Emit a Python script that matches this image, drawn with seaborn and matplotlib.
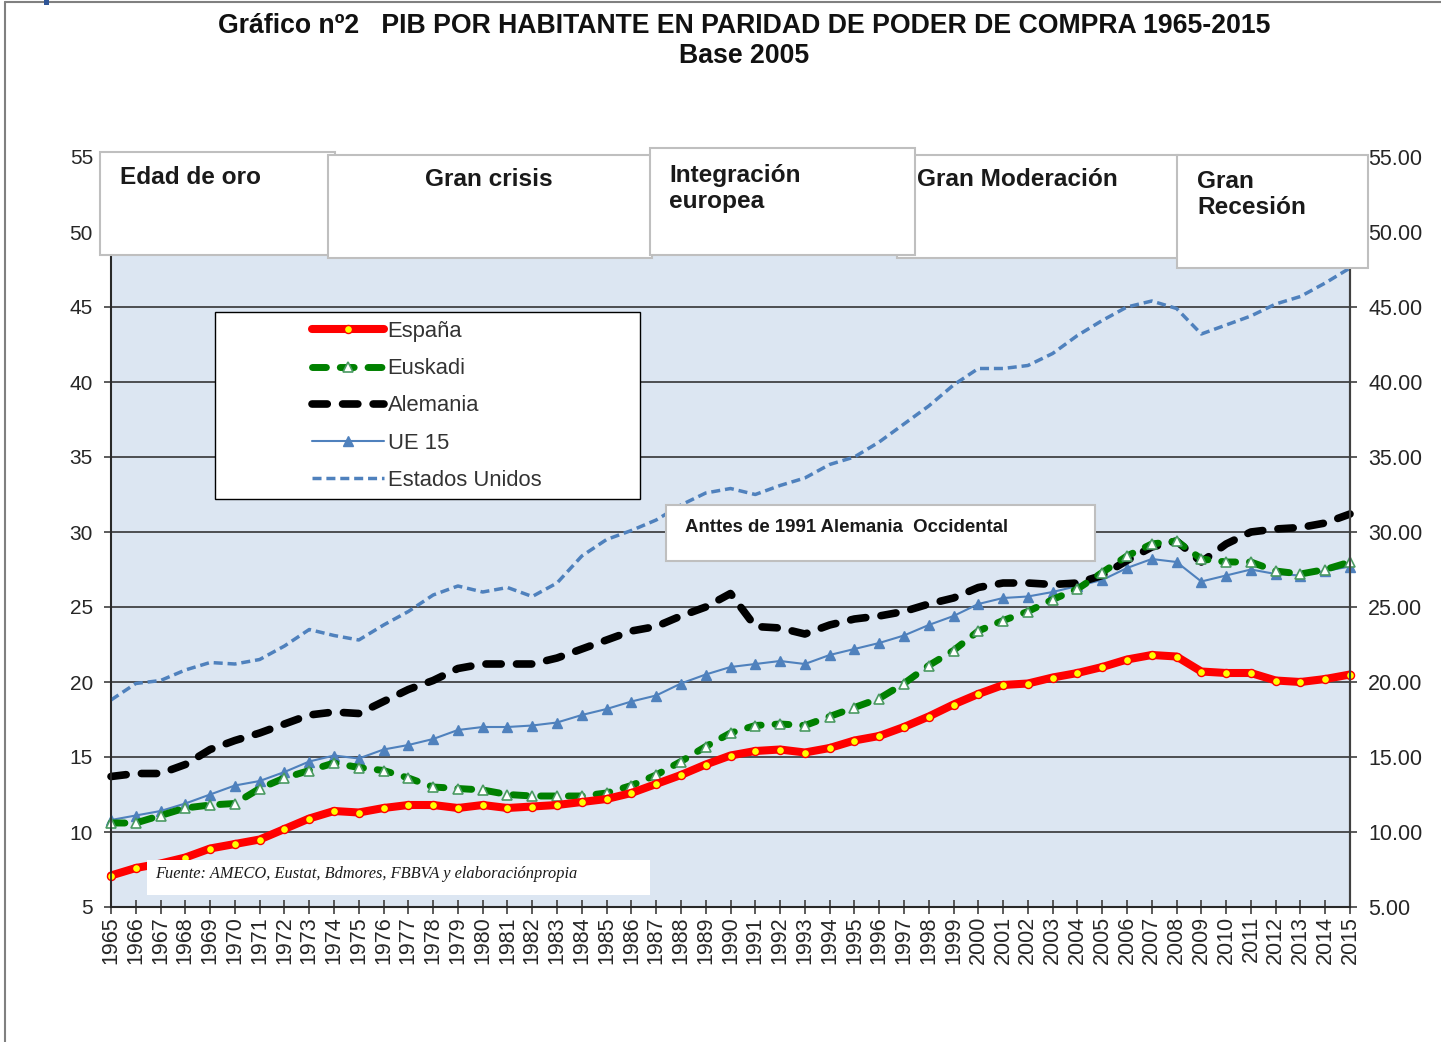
import matplotlib
matplotlib.use("Agg")
import matplotlib.pyplot as plt
import seaborn as sns
from matplotlib.patches import Rectangle
from matplotlib.ticker import FormatStrFormatter

years = list(range(1965, 2016))

espana = [7.1, 7.6, 7.9, 8.3, 8.9, 9.2, 9.5, 10.2, 10.9, 11.4,
          11.3, 11.6, 11.8, 11.8, 11.6, 11.8, 11.6, 11.7, 11.8, 12.0,
          12.2, 12.6, 13.2, 13.8, 14.5, 15.1, 15.4, 15.5, 15.3, 15.6,
          16.1, 16.4, 17.0, 17.7, 18.5, 19.2, 19.8, 19.9, 20.3, 20.6,
          21.0, 21.5, 21.8, 21.7, 20.7, 20.6, 20.6, 20.1, 20.0, 20.2,
          20.5]
euskadi = [10.6, 10.6, 11.1, 11.6, 11.8, 11.9, 12.9, 13.6, 14.1, 14.6,
           14.3, 14.1, 13.6, 13.0, 12.9, 12.8, 12.5, 12.4, 12.4, 12.4,
           12.6, 13.1, 13.8, 14.7, 15.7, 16.6, 17.1, 17.2, 17.1, 17.7,
           18.3, 18.9, 19.9, 21.1, 22.1, 23.4, 24.1, 24.7, 25.5, 26.2,
           27.3, 28.4, 29.2, 29.4, 28.2, 28.0, 28.0, 27.4, 27.2, 27.5,
           28.0]
alemania = [13.7, 13.9, 13.9, 14.5, 15.5, 16.1, 16.6, 17.2, 17.8, 18.0,
            17.9, 18.7, 19.5, 20.1, 20.9, 21.2, 21.2, 21.2, 21.6, 22.2,
            22.8, 23.4, 23.7, 24.4, 25.0, 25.9, 23.7, 23.6, 23.2, 23.8,
            24.2, 24.4, 24.7, 25.2, 25.6, 26.3, 26.6, 26.6, 26.5, 26.6,
            27.1, 28.1, 29.0, 29.4, 28.0, 29.2, 30.0, 30.2, 30.3, 30.6,
            31.2]
ue15 = [10.8, 11.1, 11.4, 11.9, 12.5, 13.1, 13.4, 14.0, 14.7, 15.1,
        14.9, 15.5, 15.8, 16.2, 16.8, 17.0, 17.0, 17.1, 17.3, 17.8,
        18.2, 18.7, 19.1, 19.9, 20.5, 21.0, 21.2, 21.4, 21.2, 21.8,
        22.2, 22.6, 23.1, 23.8, 24.4, 25.2, 25.6, 25.7, 26.0, 26.4,
        26.8, 27.6, 28.2, 28.0, 26.7, 27.1, 27.5, 27.2, 27.1, 27.4,
        27.7]
eeuu = [18.8, 19.9, 20.1, 20.8, 21.3, 21.2, 21.5, 22.4, 23.5, 23.1,
        22.8, 23.8, 24.7, 25.8, 26.4, 26.0, 26.3, 25.7, 26.6, 28.4,
        29.5, 30.1, 30.8, 31.8, 32.6, 32.9, 32.5, 33.1, 33.6, 34.5,
        35.0, 36.0, 37.2, 38.4, 39.8, 40.9, 40.9, 41.1, 41.9, 43.1,
        44.1, 45.0, 45.4, 44.9, 43.2, 43.8, 44.4, 45.2, 45.7, 46.6,
        47.6]

periods = ["Edad de oro", "Gran crisis", "Integración\neuropea",
           "Gran Moderación", "Gran\nRecesión"]

sns.set_theme(style="ticks")
plt.rcParams['font.family'] = ['Liberation Sans', 'DejaVu Sans']

W, H = 1441, 1042
fig = plt.figure(figsize=(W / 100, H / 100), dpi=100)
fig.patch.set_facecolor("white")


def fx(x):
    return x / W


def fy(y):
    return 1 - y / H


ax = fig.add_axes([fx(111), fy(907), (1350 - 111) / W, (907 - 157) / H])
ax.set_facecolor("#DCE6F2")

# series, back to front
sns.lineplot(x=years, y=eeuu, ax=ax, color="#4F81BD", linewidth=2.5,
             label="Estados Unidos", clip_on=False, zorder=3)
ax.lines[-1].set_dashes([2.6, 1.4])
ax.lines[-1].set_dash_capstyle("butt")

sns.lineplot(x=years, y=ue15, ax=ax, color="#4F81BD", linewidth=1.5,
             marker="^", markersize=6.5, markerfacecolor="#4F81BD",
             markeredgecolor="#4F81BD", markeredgewidth=1,
             label="UE 15", clip_on=False, zorder=4)

sns.lineplot(x=years, y=alemania, ax=ax, color="black", linewidth=5.5,
             label="Alemania", clip_on=False, zorder=5)
ax.lines[-1].set_dashes([2, 2])
ax.lines[-1].set_dash_capstyle("round")

sns.lineplot(x=years, y=euskadi, ax=ax, color="#008000", linewidth=5,
             marker="^", markersize=6.5, markerfacecolor="white",
             markeredgecolor="#4a9a62", markeredgewidth=1.2,
             label="Euskadi", clip_on=False, zorder=6)
ax.lines[-1].set_dashes([2, 2])
ax.lines[-1].set_dash_capstyle("round")

sns.lineplot(x=years, y=espana, ax=ax, color="#FF0000", linewidth=5.8,
             marker="o", markersize=5.8, markerfacecolor="#FFFF00",
             markeredgecolor="#FF0000", markeredgewidth=1,
             label="España", clip_on=False, zorder=7)

ax.set_xlim(1965, 2015)
ax.set_ylim(5, 55)
ax.set_xticks(years)
ax.set_xticklabels([str(y) for y in years], rotation=90)
ax.set_yticks(range(5, 60, 5))
ax.set_xlabel("")
ax.set_ylabel("")
ax.yaxis.grid(True, color="#262626", linewidth=1.1)
ax.xaxis.grid(False)
ax.set_axisbelow(True)
for s in ["left", "right", "bottom"]:
    ax.spines[s].set_color("#404040")
    ax.spines[s].set_linewidth(1.5)
ax.spines["top"].set_visible(False)
ax.tick_params(axis="x", direction="inout", length=10, width=1.2,
               colors="#404040", labelcolor="#262626", labelsize=15.5, pad=1.5)
ax.tick_params(axis="y", direction="out", length=5, width=1.2,
               colors="#404040", labelcolor="#262626", labelsize=15, pad=8)
ax.get_legend().remove()

ax2 = ax.twinx()
ax2.set_ylim(5, 55)
ax2.set_yticks(range(5, 60, 5))
ax2.yaxis.set_major_formatter(FormatStrFormatter("%.2f"))
ax2.grid(False)
ax2.spines["top"].set_visible(False)
ax2.spines["right"].set_color("#404040")
ax2.spines["right"].set_linewidth(1.5)
ax2.tick_params(axis="y", direction="out", length=5, width=1.2,
                colors="#404040", labelcolor="#262626", labelsize=15.5, pad=8)

# title
fig.text(fx(744), fy(26),
         "Gráfico nº2   PIB POR HABITANTE EN PARIDAD DE PODER DE COMPRA 1965-2015",
         ha="center", va="center", fontsize=19.2, fontweight="bold", color="#111111")
fig.text(fx(744), fy(56), "Base 2005", ha="center", va="center",
         fontsize=19.2, fontweight="bold", color="#111111")


def box(x0, y0, x1, y1, edge="#BFBFBF", lw=1.5, z=2):
    fig.patches.append(Rectangle((fx(x0), fy(y1)), (x1 - x0) / W, (y1 - y0) / H,
                                 transform=fig.transFigure, facecolor="white",
                                 edgecolor=edge, linewidth=lw, zorder=z))


# period boxes
pfs = 17.6
box(100, 152, 335, 255)
fig.text(fx(120), fy(178), periods[0], ha="left", va="center",
         fontsize=pfs, fontweight="bold", color="#1a1a1a", zorder=3)
box(328, 155, 652, 258)
fig.text(fx(489), fy(180), periods[1], ha="center", va="center",
         fontsize=pfs, fontweight="bold", color="#1a1a1a", zorder=3)
box(897, 155, 1178, 258)
fig.text(fx(917), fy(180), periods[3], ha="left", va="center",
         fontsize=pfs, fontweight="bold", color="#1a1a1a", zorder=3)
box(650, 148, 915, 255)
fig.text(fx(669), fy(188.5), periods[2], ha="left", va="center",
         fontsize=pfs, fontweight="bold", color="#1a1a1a", zorder=3,
         linespacing=1.22)
box(1177, 155, 1368, 268)
fig.text(fx(1197), fy(194.5), periods[4], ha="left", va="center",
         fontsize=pfs, fontweight="bold", color="#1a1a1a", zorder=3,
         linespacing=1.22)

# note about Germany
box(666, 505, 1095, 561)
fig.text(fx(685), fy(527), "Anttes de 1991 Alemania  Occidental", ha="left",
         va="center", fontsize=13.4, fontweight="bold", color="#1a1a1a", zorder=3)

# source
box(147, 860, 650, 895, edge="white", lw=0)
fig.text(fx(155), fy(874), "Fuente: AMECO, Eustat, Bdmores, FBBVA y elaboraciónpropia",
         ha="left", va="center", fontsize=11.8, fontstyle="italic",
         family=["Liberation Serif", "DejaVu Serif"], color="#1a1a1a", zorder=3)

# legend
box(215, 312, 640, 499, edge="black", lw=1)
handles, labels = ax.get_legend_handles_labels()
order = ["España", "Euskadi", "Alemania", "UE 15", "Estados Unidos"]
hmap = dict(zip(labels, handles))
leg = fig.legend([hmap[k] for k in order], order, loc="center left",
                 bbox_to_anchor=(fx(312), fy(406)), bbox_transform=fig.transFigure,
                 frameon=False, fontsize=15.8, handlelength=3.3, handletextpad=0.15,
                 labelspacing=0.74, borderpad=0, borderaxespad=0, numpoints=1)
for t in leg.get_texts():
    t.set_color("#333333")

# outer chart border
fig.add_artist(plt.Line2D([fx(5), fx(5)], [fy(2), 0], transform=fig.transFigure,
                          color="#808080", linewidth=1.5))
fig.add_artist(plt.Line2D([fx(5), 1], [fy(2), fy(2)], transform=fig.transFigure,
                          color="#808080", linewidth=1.5))
fig.patches.append(Rectangle((fx(44), fy(5)), 5 / W, 5 / H, transform=fig.transFigure,
                             facecolor="#2F5597", edgecolor="none", zorder=3))

fig.savefig("out.png", dpi=100)
